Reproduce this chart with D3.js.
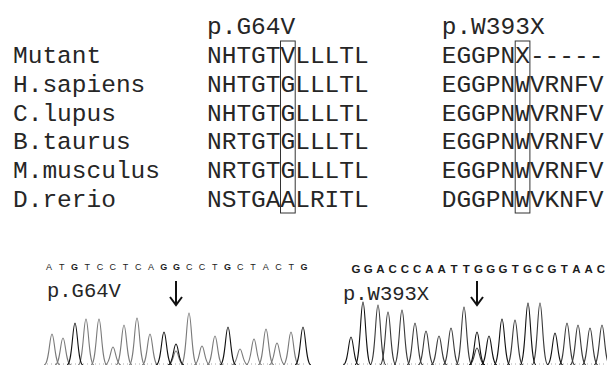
<!DOCTYPE html>
<html>
<head>
<meta charset="utf-8">
<script src="https://cdn.jsdelivr.net/npm/d3@7"></script>
<style>
  body { margin: 0; background: #fff; }
  svg { display: block; }
  .mono { font-family: "Courier New", "Liberation Mono", monospace; fill: #262626; }
  .base { font-family: "Liberation Sans", Arial, sans-serif; fill: #1c1c1c; }
</style>
</head>
<body>
<div id="fig"></div>
<script>
// alignment
var species = ["Mutant", "H.sapiens", "C.lupus", "B.taurus", "M.musculus", "D.rerio"];
var mutations = ["p.G64V", "p.W393X"];
var seqG64 = ["NHTGTVLLLTL", "NHTGTGLLLTL", "NHTGTGLLLTL", "NRTGTGLLLTL", "NRTGTGLLLTL", "NSTGAALRITL"];
var seqW393 = ["EGGPNX-----", "EGGPNWVRNFV", "EGGPNWVRNFV", "EGGPNWVRNFV", "EGGPNWVRNFV", "DGGPNWVKNFV"];
var boxedCol = 5;

// chromatograms (scan position, peak height)
var basesG64 = "ATGTCCTCAGGCCTGCTACTG".split("");
var scanG64 = [5, 16, 28, 39, 52, 66, 77, 90, 103, 117, 129, 142, 155, 168, 181, 193, 207, 219, 230, 244, 256];
var heightG64 = [31, 27, 42, 46, 46, 18, 40, 47, 31, 33, 21, 52, 19, 29, 38, 16, 26, 36, 22, 33, 38];
var mutG64 = { index: 10, height: 14 };

var basesW393 = "GGACCCAATTGGGTGCGTAAC".split("");
var scanW393 = [8, 20, 35, 45, 59, 72, 83, 96, 108, 121, 134, 146, 159, 172, 185, 197, 212, 224, 235, 247, 259];
var heightW393 = [28, 63, 60, 53, 55, 42, 34, 29, 37, 58, 33, 29, 46, 45, 62, 62, 32, 42, 40, 37, 40];
var mutW393 = { index: 10, height: 17 };

var width = 607, height = 365;

var svg = d3.select("#fig").append("svg")
    .attr("width", width)
    .attr("height", height);

// ---- alignment block
var charW = 14.7;
var rowY = d3.scalePoint().domain(species).range([63, 207]);
var blockX = d3.scaleOrdinal().domain(mutations).range([207, 441.7]);
var blocks = [seqG64, seqW393];

svg.selectAll(".label")
    .data(species)
  .enter().append("text")
    .attr("class", "mono label")
    .attr("x", 13)
    .attr("y", function(d) { return rowY(d); })
    .style("font-size", "24.5px")
    .text(function(d) { return d; });

mutations.forEach(function(m, k) {
  var col = d3.scaleLinear().domain([0, 1]).range([blockX(m), blockX(m) + charW]);
  var g = svg.append("g");

  g.append("text")
      .attr("class", "mono")
      .attr("x", col(0))
      .attr("y", 34)
      .style("font-size", "24.5px")
      .text(m);

  g.selectAll(".seq")
      .data(blocks[k])
    .enter().append("text")
      .attr("class", "mono seq")
      .attr("x", col(0))
      .attr("y", function(d, i) { return rowY(species[i]); })
      .style("font-size", "24.5px")
      .text(function(d) { return d; });

  g.append("rect")
      .attr("x", col(boxedCol))
      .attr("y", rowY(species[0]) - 22)
      .attr("width", col(boxedCol + 1) - col(boxedCol))
      .attr("height", rowY(species[species.length - 1]) - rowY(species[0]) + 28)
      .attr("fill", "none")
      .attr("stroke", "#333")
      .attr("stroke-width", 1);
});

// ---- chromatograms
function peakPath(cx, y0, y1, w) {
  return "M" + (cx - w) + "," + y0 +
    "C" + (cx - w * 0.35) + "," + y0 + " " + (cx - w * 0.3) + "," + y1 + " " + cx + "," + y1 +
    "C" + (cx + w * 0.3) + "," + y1 + " " + (cx + w * 0.35) + "," + y0 + " " + (cx + w) + "," + y0;
}

var panels = [
  { name: mutations[0], bases: basesG64, scan: scanG64, h: heightG64, mut: mutG64,
    x0: 47, x1: 307, scanMax: 260, seqRange: [49, 304], seqY: 270, seqSize: 9, allBold: false,
    labelY: 297, gray: "#7a7a7a" },
  { name: mutations[1], bases: basesW393, scan: scanW393, h: heightW393, mut: mutW393,
    x0: 343, x1: 607, scanMax: 264, seqRange: [356, 601], seqY: 273, seqSize: 11.5, allBold: true,
    labelY: 300, gray: "#3a3a3a" }
];

var y = d3.scaleLinear().domain([0, 100]).range([365, 265]);

panels.forEach(function(p) {
  var x = d3.scaleLinear().domain([0, p.scanMax]).range([p.x0, p.x1]);
  var g = svg.append("g");
  var w = 8;

  var peaks = p.scan.map(function(s, i) {
    return { s: s, h: p.h[i], b: p.bases[i] };
  });
  var second = { s: p.scan[p.mut.index], h: p.mut.height, b: "X" };

  g.append("line")
      .attr("x1", x(0)).attr("x2", x(p.scanMax))
      .attr("y1", y(0) - 1).attr("y2", y(0) - 1)
      .attr("stroke", "#aaa")
      .attr("stroke-dasharray", "1,3");

  var order = peaks.filter(function(d) { return d.b !== "G"; })
      .concat([second])
      .concat(peaks.filter(function(d) { return d.b === "G"; }));

  g.selectAll(".peak")
      .data(order)
    .enter().append("path")
      .attr("class", "peak")
      .attr("d", function(d) { return peakPath(x(d.s), y(0), y(d.h), w); })
      .attr("fill", "none")
      .attr("stroke", function(d) { return d.b === "G" ? "#111" : p.gray; })
      .attr("stroke-width", 1.1);

  var bx = d3.scalePoint().domain(d3.range(p.bases.length)).range(p.seqRange);
  g.selectAll(".base")
      .data(p.bases)
    .enter().append("text")
      .attr("class", "base")
      .attr("x", function(d, i) { return bx(i); })
      .attr("y", p.seqY)
      .attr("text-anchor", "middle")
      .style("font-size", p.seqSize + "px")
      .style("font-weight", function(d) { return (p.allBold || d === "G") ? "bold" : "normal"; })
      .text(function(d) { return d; });

  g.append("text")
      .attr("class", "mono")
      .attr("x", p.x0)
      .attr("y", p.labelY)
      .style("font-size", "20.5px")
      .text(p.name);

  var ax = x(p.scan[p.mut.index]);
  g.append("line")
      .attr("x1", ax).attr("x2", ax)
      .attr("y1", 281).attr("y2", 304)
      .attr("stroke", "#111").attr("stroke-width", 2);
  g.append("path")
      .attr("d", "M" + (ax - 6) + ",297L" + ax + ",305L" + (ax + 6) + ",297")
      .attr("fill", "none")
      .attr("stroke", "#111").attr("stroke-width", 2);
});
</script>
</body>
</html>
